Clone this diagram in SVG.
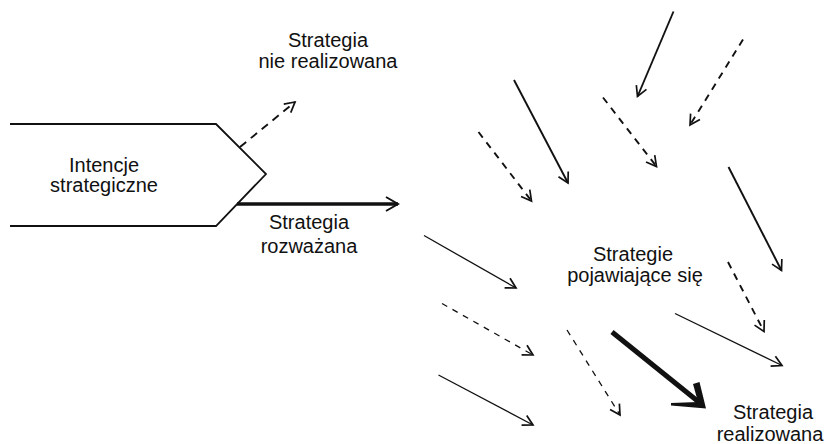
<svg xmlns="http://www.w3.org/2000/svg" width="824" height="444" viewBox="0 0 824 444">
<style>
.t{font-family:"Liberation Sans",Arial,Helvetica,sans-serif;font-size:20px;fill:#111;text-anchor:middle}
.ln{fill:none;stroke:#111;stroke-linecap:butt}
.s1{stroke-width:1.3}
.s2{stroke-width:1.9}
.d1{stroke-dasharray:6 6}
.d2{stroke-dasharray:7 6}
</style>
<defs>
<marker id="h" markerUnits="userSpaceOnUse" viewBox="-12 -8 14 16" markerWidth="14" markerHeight="16" refX="0" refY="0" orient="auto" overflow="visible">
<path d="M-10,-5.5 L0,0 L-10,5.5" fill="none" stroke="#111" stroke-width="1.7"/>
</marker>
<marker id="hb" markerUnits="userSpaceOnUse" viewBox="-14 -9 16 18" markerWidth="16" markerHeight="18" refX="0" refY="0" orient="auto" overflow="visible">
<path d="M-12,-7 L0,0 L-12,7" fill="none" stroke="#111" stroke-width="2"/>
</marker>
</defs>
<rect width="824" height="444" fill="#fff"/>
<g id="intencje">
<path class="ln" d="M10,124 L216,124 L266,174 L216,226 L10,226" stroke-width="1.8"/>
<text class="t" x="104" y="171.5">Intencje</text>
<text class="t" x="104" y="192">strategiczne</text>
</g>
<g id="nie-realizowana">
<text class="t" x="328" y="46.5">Strategia</text>
<text class="t" x="328" y="68">nie realizowana</text>
</g>
<g id="rozwazana">
<text class="t" x="309" y="228.5">Strategia</text>
<text class="t" x="309" y="252.5">rozważana</text>
</g>
<g id="pojawiajace">
<text class="t" x="633" y="260.5">Strategie</text>
<text class="t" x="635" y="282">pojawiające się</text>
</g>
<g id="realizowana">
<text class="t" x="773" y="419">Strategia</text>
<text class="t" x="770" y="440.5">realizowana</text>
</g>
<g id="connectors">
<line class="ln s2" x1="240" y1="147" x2="295" y2="102" stroke-dasharray="8 6" marker-end="url(#h)"/>
<line class="ln" x1="237" y1="204" x2="398" y2="204" stroke-width="3.4" marker-end="url(#hb)"/>
<line class="ln s2" x1="673.5" y1="11.5" x2="637.5" y2="96.5" marker-end="url(#h)"/>
<line class="ln s2 d2" x1="743" y1="39.5" x2="690" y2="125" marker-end="url(#h)"/>
<line class="ln s2" x1="514" y1="80" x2="568" y2="183" marker-end="url(#h)"/>
<line class="ln s2 d2" x1="603" y1="97.5" x2="656.5" y2="166.5" marker-end="url(#h)"/>
<line class="ln s2 d2" x1="478.5" y1="132" x2="531.5" y2="201" marker-end="url(#h)"/>
<line class="ln s2" x1="728.5" y1="167" x2="781.5" y2="270.5" marker-end="url(#h)"/>
<line class="ln s2 d2" x1="728" y1="262" x2="764" y2="331.5" marker-end="url(#h)"/>
<line class="ln s1" x1="675" y1="313.5" x2="782" y2="365.5" marker-end="url(#h)"/>
<line class="ln s1" x1="424" y1="235.5" x2="516" y2="288" marker-end="url(#h)"/>
<line class="ln s1 d1" x1="442" y1="303.5" x2="533" y2="355" marker-end="url(#h)"/>
<line class="ln s1" x1="438.5" y1="375" x2="533" y2="425" marker-end="url(#h)"/>
<line class="ln s1 d1" x1="567" y1="330" x2="620" y2="415" marker-end="url(#h)"/>
<line class="ln" x1="612" y1="332" x2="700" y2="403" stroke-width="5"/>
<polygon points="671,403 698,402 693,384 699.5,382 706,408.5 671,405.5" fill="#111"/>
</g>
</svg>
